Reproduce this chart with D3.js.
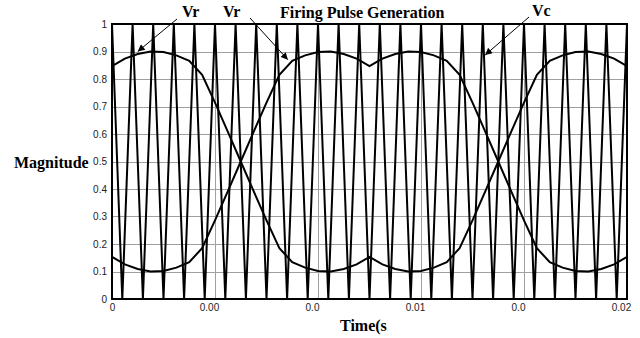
<!DOCTYPE html>
<html>
<head>
<meta charset="utf-8">
<script src="https://cdn.jsdelivr.net/npm/d3@7"></script>
<style>
  body { margin: 0; background: #fff; }
  .tick-label { font-family: Arial, 'Liberation Sans', sans-serif; font-size: 10px; fill: #222; }
  .title { font-family: 'Times New Roman', 'Liberation Serif', serif; font-weight: bold; font-size: 16px; fill: #000; }
</style>
</head>
<body>
<svg id="chart" width="640" height="338"></svg>
<script>
// chart values
const yTicks = [0, 0.1, 0.2, 0.3, 0.4, 0.5, 0.6, 0.7, 0.8, 0.9, 1];
const yTickLabels = ['0', '0.1', '0.2', '0.3', '0.4', '0.5', '0.6', '0.7', '0.8', '0.9', '1'];
const xTicks = [0, 0.004, 0.008, 0.012, 0.016, 0.02];
const xTickLabels = ['0', '0.00', '0.0', '0.01', '0.0', '0.02'];

// modulating (reference) signals, sampled every 0.5 ms
const refTime = [
  0, 0.0005, 0.001, 0.0015, 0.002, 0.0025, 0.003, 0.0035, 0.004, 0.0045,
  0.005, 0.0055, 0.006, 0.0065, 0.007, 0.0075, 0.008, 0.0085, 0.009, 0.0095,
  0.01, 0.0105, 0.011, 0.0115, 0.012, 0.0125, 0.013, 0.0135, 0.014, 0.0145,
  0.015, 0.0155, 0.016, 0.0165, 0.017, 0.0175, 0.018, 0.0185, 0.019, 0.0195, 0.02,
];
const vrA = [
  0.847, 0.874, 0.891, 0.9, 0.898, 0.886, 0.866, 0.815, 0.714, 0.608,
  0.5, 0.392, 0.286, 0.185, 0.134, 0.114, 0.102, 0.1, 0.109, 0.126,
  0.153, 0.126, 0.109, 0.1, 0.102, 0.114, 0.134, 0.185, 0.286, 0.392,
  0.5, 0.608, 0.714, 0.815, 0.866, 0.886, 0.898, 0.9, 0.891, 0.874, 0.847,
];
const vrB = [
  0.153, 0.126, 0.109, 0.1, 0.102, 0.114, 0.134, 0.185, 0.286, 0.392,
  0.5, 0.608, 0.714, 0.815, 0.866, 0.886, 0.898, 0.9, 0.891, 0.874,
  0.847, 0.874, 0.891, 0.9, 0.898, 0.886, 0.866, 0.815, 0.714, 0.608,
  0.5, 0.392, 0.286, 0.185, 0.134, 0.114, 0.102, 0.1, 0.109, 0.126, 0.153,
];

// triangular carrier Vc, corners every 0.4 ms
const carrierTime = [
  0, 0.0004, 0.0008, 0.0012, 0.0016, 0.002, 0.0024, 0.0028, 0.0032, 0.0036,
  0.004, 0.0044, 0.0048, 0.0052, 0.0056, 0.006, 0.0064, 0.0068, 0.0072, 0.0076,
  0.008, 0.0084, 0.0088, 0.0092, 0.0096, 0.01, 0.0104, 0.0108, 0.0112, 0.0116,
  0.012, 0.0124, 0.0128, 0.0132, 0.0136, 0.014, 0.0144, 0.0148, 0.0152, 0.0156,
  0.016, 0.0164, 0.0168, 0.0172, 0.0176, 0.018, 0.0184, 0.0188, 0.0192, 0.0196, 0.02,
];
const carrierValue = [
  1, 0, 1, 0, 1, 0, 1, 0, 1, 0,
  1, 0, 1, 0, 1, 0, 1, 0, 1, 0,
  1, 0, 1, 0, 1, 0, 1, 0, 1, 0,
  1, 0, 1, 0, 1, 0, 1, 0, 1, 0,
  1, 0, 1, 0, 1, 0, 1, 0, 1, 0, 1,
];

// labels with arrows: [text, value at arrow tip time, tip time]
const callouts = [
  { text: 'Vr', t: 0.001, v: 0.9 },
  { text: 'Vr', t: 0.00683, v: 0.87 },
  { text: 'Vc', t: 0.01449, v: 0.887 },
];

const margin = { left: 112, right: 13, top: 24, bottom: 39 };
const width = 640, height = 338;

const svg = d3.select('#chart');

let x = d3.scaleLinear().domain([0, 0.02]).range([margin.left, width - margin.right]);
let y = d3.scaleLinear().domain([0, 1]).range([height - margin.bottom, margin.top]);

// grid
let grid = svg.append('g').attr('id', 'grid').attr('stroke', '#a0a0a0').attr('stroke-width', 1);
grid.selectAll('line.h')
  .data(yTicks.slice(1, -1))
  .join('line')
  .attr('class', 'h')
  .attr('x1', x(0)).attr('x2', x(0.02))
  .attr('y1', (d) => Math.round(y(d)) + 0.5)
  .attr('y2', (d) => Math.round(y(d)) + 0.5);
grid.selectAll('line.v')
  .data(xTicks.slice(1, -1))
  .join('line')
  .attr('class', 'v')
  .attr('y1', y(0)).attr('y2', y(1))
  .attr('x1', (d) => Math.round(x(d)) + 0.5)
  .attr('x2', (d) => Math.round(x(d)) + 0.5);

// axes, tick lines hidden - only labels like the original
let yAxis = d3.axisLeft(y)
  .tickValues(yTicks)
  .tickFormat((d, i) => yTickLabels[i])
  .tickSize(0)
  .tickPadding(5);
svg.append('g')
  .attr('transform', `translate(${x(0)},0)`)
  .call(yAxis)
  .call((g) => g.select('.domain').remove())
  .selectAll('text')
  .attr('class', 'tick-label');

let xAxis = d3.axisBottom(x)
  .tickValues(xTicks)
  .tickFormat((d, i) => xTickLabels[i])
  .tickSize(0)
  .tickPadding(5);
svg.append('g')
  .attr('transform', `translate(0,${y(0)})`)
  .call(xAxis)
  .call((g) => g.select('.domain').remove())
  .selectAll('text')
  .attr('class', 'tick-label')
  .attr('dx', (d, i) => (i === 0 ? 0 : -6));

let line = d3.line()
  .x((d) => x(d[0]))
  .y((d) => y(d[1]));

let plot = svg.append('g')
  .attr('fill', 'none')
  .attr('stroke', '#000')
  .attr('stroke-width', 2)
  .attr('stroke-linejoin', 'miter');

plot.append('path').attr('d', line(d3.zip(carrierTime, carrierValue)));
plot.append('path').attr('d', line(d3.zip(refTime, vrA)));
plot.append('path').attr('d', line(d3.zip(refTime, vrB)));

// frame
svg.append('rect')
  .attr('x', x(0)).attr('y', y(1))
  .attr('width', x(0.02) - x(0)).attr('height', y(0) - y(1))
  .attr('fill', 'none').attr('stroke', '#000').attr('stroke-width', 2);

// arrow marker
svg.append('defs').append('marker')
  .attr('id', 'head')
  .attr('viewBox', '0 0 10 10')
  .attr('refX', 10).attr('refY', 5)
  .attr('markerWidth', 9).attr('markerHeight', 7)
  .attr('markerUnits', 'userSpaceOnUse')
  .attr('orient', 'auto')
  .append('path').attr('d', 'M0,0L10,5L0,10z').attr('fill', '#000');

// label positions (text anchor point) and arrow tail
let labelPos = [
  { lx: 182, ly: 17, ax: 177, ay: 19 },
  { lx: 223, ly: 17, ax: 250, ay: 18 },
  { lx: 532, ly: 16, ax: 529, ay: 17 },
];

callouts.forEach((c, i) => {
  let p = labelPos[i];
  svg.append('text').attr('class', 'title').attr('x', p.lx).attr('y', p.ly).text(c.text);
  svg.append('line')
    .attr('x1', p.ax).attr('y1', p.ay)
    .attr('x2', x(c.t)).attr('y2', y(c.v))
    .attr('stroke', '#000').attr('stroke-width', 1)
    .attr('marker-end', 'url(#head)');
});

svg.append('text').attr('class', 'title').attr('x', 280).attr('y', 18).text('Firing Pulse Generation');
svg.append('text').attr('class', 'title').attr('x', 14).attr('y', 168).text('Magnitude');
svg.append('text').attr('class', 'title').attr('x', 340).attr('y', 331).text('Time(s');
</script>
</body>
</html>
